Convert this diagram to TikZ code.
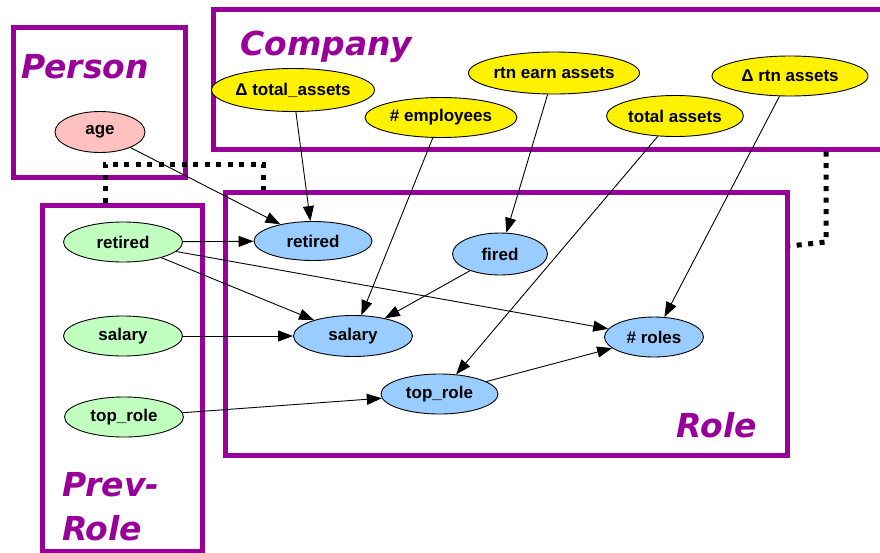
\documentclass[tikz,border=0pt]{standalone}
\usepackage{fontspec}
\usepackage{tikz}
\usepackage{xcolor}
\usetikzlibrary{shapes.geometric,arrows.meta}
\newfontfamily\nodefont{Liberation Sans}
\newfontfamily\platefont{DejaVu Sans}
\definecolor{plate-purple}{RGB}{153,0,153}
\definecolor{person-pink}{RGB}{255,192,192}
\definecolor{prev-green}{RGB}{192,255,192}
\definecolor{role-blue}{RGB}{153,204,255}
\tikzset{
    plate-box/.style = {draw=plate-purple, line width=5pt, rectangle, anchor=north west, inner sep=0pt},
    plate-title/.style = {text=plate-purple, font=\platefont\bfseries\itshape\fontsize{33}{44}\selectfont, inner sep=0pt, align=left},
    attr-node/.style = {draw=black, line width=0.9pt, ellipse, inner sep=0pt, minimum width=119pt, minimum height=40pt, font=\nodefont\bfseries\fontsize{17}{20}\selectfont},
    person-attr/.style = {attr-node, fill=person-pink},
    company-attr/.style = {attr-node, fill=yellow},
    role-attr/.style = {attr-node, fill=role-blue},
    prev-attr/.style = {attr-node, fill=prev-green},
    dep-arrow/.style = {-{Triangle[length=15pt,width=11pt]}, line width=0.9pt},
    plate-link/.style = {line width=5pt, dash pattern=on 5pt off 6.5pt},
}

\begin{document}
\begin{tikzpicture}[x=1pt, y=-1pt]
\clip (0,0) rectangle (880,552);
\fill[white] (0,0) rectangle (880,552);

\node[plate-box, minimum width=172pt, minimum height=150pt] (person) at (10.5,24.5) {};
\node[plate-box, minimum width=690pt, minimum height=140pt] (company) at (210.5,6.5) {};
\node[plate-box, minimum width=561.5pt, minimum height=263pt] (role) at (223,190) {};
\node[plate-box, minimum width=159.5pt, minimum height=346.5pt] (prevrole) at (40,202.5) {};

\node[plate-title, anchor=base west] (person-title) at (21,78) {Person};
\node[plate-title, anchor=base west] (company-title) at (240,55) {Company};
\node[plate-title, anchor=base east] (role-title) at (757,437) {Role};
\node[plate-title, anchor=north west] (prevrole-title) at (62,472) {Prev-\\Role};

\node[person-attr, minimum width=90pt, minimum height=41pt] (age) at (100,132) {age};

\node[company-attr, minimum width=152pt, minimum height=43pt] (d-total) at (293,90) {Δ total\_assets};
\node[company-attr, minimum width=152pt] (employees) at (441,117.5) {\# employees};
\node[company-attr, minimum width=164pt, minimum height=42pt] (earn) at (554,73) {rtn earn assets};
\node[company-attr, minimum width=137pt, minimum height=41pt] (total) at (675,116) {total assets};
\node[company-attr, minimum width=156pt] (d-rtn) at (790,76) {Δ rtn assets};

\node[prev-attr] (prev-retired) at (123,242) {retired};
\node[prev-attr] (prev-salary) at (123,336) {salary};
\node[prev-attr] (prev-top) at (124,417) {top\_role};

\node[role-attr, minimum width=118pt, minimum height=39pt] (retired) at (313,241) {retired};
\node[role-attr, minimum width=95pt, minimum height=42pt] (fired) at (500,254) {fired};
\node[role-attr, minimum height=41pt] (salary) at (353,336) {salary};
\node[role-attr, minimum width=117pt] (top) at (439.5,394) {top\_role};
\node[role-attr, minimum width=99pt] (roles) at (654,337) {\# roles};

\draw[dep-arrow] (age) -- (retired);
\draw[dep-arrow] (d-total) -- (retired);
\draw[dep-arrow] (prev-retired) -- (retired);
\draw[dep-arrow] (prev-retired) -- (salary);
\draw[dep-arrow] (prev-retired) -- (roles);
\draw[dep-arrow] (employees) -- (salary);
\draw[dep-arrow] (fired) -- (salary);
\draw[dep-arrow] (earn) -- (fired);
\draw[dep-arrow] (total) -- (top);
\draw[dep-arrow] (d-rtn) -- (roles);
\draw[dep-arrow] (prev-salary) -- (salary);
\draw[dep-arrow] (prev-top) -- (top);
\draw[dep-arrow] (top) -- (roles);

\coordinate (co-bend) at (826,242);
\draw[plate-link] ([xshift=65pt]prevrole.north west) -- ++(0,-38.5) -| ([xshift=40pt]role.north west);
\draw[plate-link] ([xshift=615.5pt]company.south west) -- (co-bend) -- ([yshift=-56pt]role.north east);
\end{tikzpicture}
\end{document}
